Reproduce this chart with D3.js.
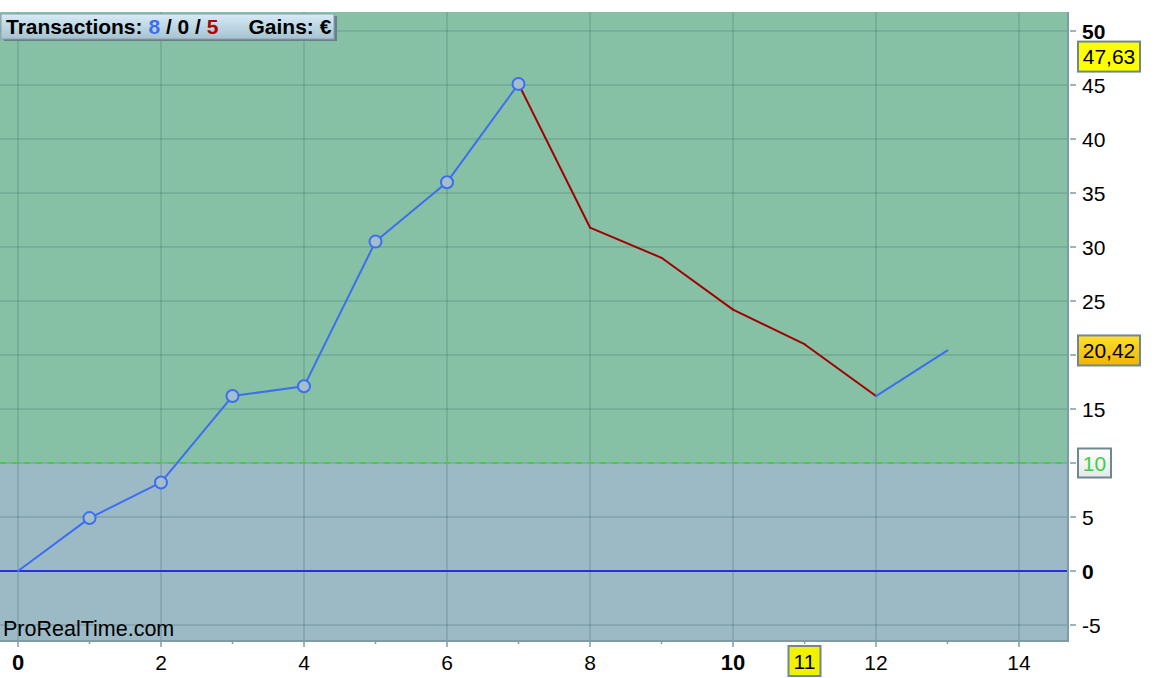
<!DOCTYPE html>
<html><head><meta charset="utf-8">
<script src="https://cdn.jsdelivr.net/npm/d3@7"></script>
<style>body{margin:0;background:#fff;font-family:"Liberation Sans",Arial,sans-serif}</style>
</head><body><svg id="c" width="1162" height="678"></svg>
<script>
const trades = [0,1,2,3,4,5,6,7,8,9,10,11,12,13];
const equity = [0,4.9,8.2,16.2,17.1,30.5,36.0,45.1,31.8,29.0,24.2,21.0,16.2,20.42];
const segColor = ["up","up","up","up","up","up","up","down","down","down","down","down","up"];
const markerIdx = [1,2,3,4,5,6,7];
const yTicks = [-5,0,5,10,15,20,25,30,35,40,45,50];
const xTicksMajor = [0,2,4,6,8,10,12,14];
const xTicksMinor = [1,3,5,7,9,11,13];
const threshold = 10;
const maxLabel = 47.63, lastLabel = 20.42, curX = 11;

const svg = d3.select("#c");
const L=0,R=1068,T=12,B=641;
const FS = 21;
const x = d3.scaleLinear().domain([0,14]).range([18,1019]);
const y = d3.scaleLinear().domain([0,50]).range([571,31]);

svg.append("rect").attr("x",L).attr("y",T).attr("width",R-L).attr("height",y(threshold)-T).attr("fill","#86c1a6");
svg.append("rect").attr("x",L).attr("y",y(threshold)).attr("width",R-L).attr("height",B-y(threshold)).attr("fill","#9bbac6");

const g = svg.append("g");
g.selectAll(".gy").data(yTicks).join("line").attr("x1",L).attr("x2",R).attr("y1",d=>y(d)).attr("y2",d=>y(d))
 .attr("stroke","rgba(30,70,70,0.15)").attr("stroke-width",2);
g.selectAll(".gx").data(xTicksMajor).join("line").attr("y1",T).attr("y2",B).attr("x1",d=>x(d)).attr("x2",d=>x(d))
 .attr("stroke","rgba(30,70,70,0.15)").attr("stroke-width",2);

svg.append("line").attr("x1",L).attr("x2",R).attr("y1",y(threshold)).attr("y2",y(threshold))
 .attr("stroke","#44cc44").attr("stroke-width",2).attr("stroke-dasharray","6,6");
svg.append("line").attr("x1",L).attr("x2",R).attr("y1",y(0)).attr("y2",y(0)).attr("stroke","#2a2fd8").attr("stroke-width",2);

svg.append("path").attr("d",`M${R},${T}V${B}H${L}`).attr("fill","none").attr("stroke","#7f9ca6").attr("stroke-width",2);

const pts = trades.map((t,i)=>[x(t),y(equity[i])]);
svg.append("g").selectAll("line").data(segColor).join("line")
 .attr("x1",(d,i)=>pts[i][0]).attr("y1",(d,i)=>pts[i][1]).attr("x2",(d,i)=>pts[i+1][0]).attr("y2",(d,i)=>pts[i+1][1])
 .attr("stroke",d=>d==="up"?"#3d6ef2":"#a00000").attr("stroke-width",2).attr("stroke-linecap","round");

svg.append("g").selectAll("circle").data(markerIdx).join("circle")
 .attr("cx",i=>pts[i][0]).attr("cy",i=>pts[i][1]).attr("r",6)
 .attr("fill","#a3bfcc").attr("stroke","#3d6ef2").attr("stroke-width",2);

const ra = svg.append("g");
ra.selectAll("line").data(yTicks).join("line").attr("x1",R+2).attr("x2",R+8).attr("y1",d=>y(d)).attr("y2",d=>y(d)).attr("stroke","#7f9ca6").attr("stroke-width",1.5);
ra.selectAll("text").data(yTicks.filter(d=>d!==10&&d!==20)).join("text")
 .attr("x",R+14).attr("y",d=>y(d)+7.5).attr("font-size",FS).attr("font-weight",d=>(d===0||d===50)?"bold":"normal")
 .attr("fill","#000").text(d=>d);

function box(xp,yc,w,h,fill,txt,col){
  svg.append("rect").attr("x",xp).attr("y",yc-h/2).attr("width",w).attr("height",h).attr("fill",fill).attr("stroke","#6f8791").attr("stroke-width",2);
  svg.append("text").attr("x",xp+w/2).attr("y",yc+7.5).attr("text-anchor","middle").attr("font-size",FS).attr("fill",col).text(txt);
}
const defs = svg.append("defs");
const og = defs.append("linearGradient").attr("id","og").attr("x1",0).attr("y1",0).attr("x2",0).attr("y2",1);
og.append("stop").attr("offset",0).attr("stop-color","#ffe030");
og.append("stop").attr("offset",1).attr("stop-color","#f2b400");
const lg = defs.append("linearGradient").attr("id","lg").attr("x1",0).attr("y1",0).attr("x2",0).attr("y2",1);
lg.append("stop").attr("offset",0).attr("stop-color","#d6ecf7");
lg.append("stop").attr("offset",1).attr("stop-color","#a6c2d0");
const wg = defs.append("linearGradient").attr("id","wg").attr("x1",0).attr("y1",0).attr("x2",0).attr("y2",1);
wg.append("stop").attr("offset",0).attr("stop-color","#ffffff");
wg.append("stop").attr("offset",1).attr("stop-color","#e4e8ea");

box(1078,y(maxLabel),62,30,"#ffff00",maxLabel.toFixed(2).replace(".",","),"#000");
box(1078,y(lastLabel),62,30,"url(#og)",lastLabel.toFixed(2).replace(".",","),"#000");
box(1078,y(threshold),33,29,"url(#wg)",String(threshold),"#44cc44");

const ba = svg.append("g");
ba.selectAll(".mj").data(xTicksMajor).join("line").attr("x1",d=>x(d)).attr("x2",d=>x(d)).attr("y1",B).attr("y2",B+6).attr("stroke","#7f9ca6").attr("stroke-width",1.5);
ba.selectAll(".mn").data(xTicksMinor).join("line").attr("x1",d=>x(d)).attr("x2",d=>x(d)).attr("y1",B).attr("y2",B+3).attr("stroke","#7f9ca6").attr("stroke-width",1.5);
ba.selectAll("text").data(xTicksMajor).join("text").attr("x",d=>x(d)).attr("y",670).attr("text-anchor","middle")
 .attr("font-size",d=>(d===0||d===10)?22:FS).attr("font-weight",d=>(d===0||d===10)?"bold":"normal").text(d=>d);
svg.append("rect").attr("x",x(curX)-16).attr("y",646).attr("width",32).attr("height",30).attr("fill","#f2f200").attr("stroke","#6f8791").attr("stroke-width",2);
svg.append("text").attr("x",x(curX)).attr("y",669).attr("text-anchor","middle").attr("font-size",FS).text(curX);

svg.append("text").attr("x",3).attr("y",636).attr("font-size",21.5).attr("fill","#000").text("ProRealTime.com");

svg.append("rect").attr("x",4).attr("y",16).attr("width",333).attr("height",25).attr("fill","#6a7f88");
svg.append("rect").attr("x",1).attr("y",14).attr("width",333).attr("height",25).attr("fill","url(#lg)").attr("stroke","#8aa0aa").attr("stroke-width",1);
const lt = svg.append("text").attr("x",6).attr("y",34).attr("font-size",FS).attr("font-weight","bold").attr("fill","#000");
lt.append("tspan").text("Transactions: ");
lt.append("tspan").attr("fill","#3d6ef2").text("8");
lt.append("tspan").text(" / 0 / ");
lt.append("tspan").attr("fill","#b00000").text("5");
lt.append("tspan").attr("dx",30).text("Gains: €");
</script></body></html>
